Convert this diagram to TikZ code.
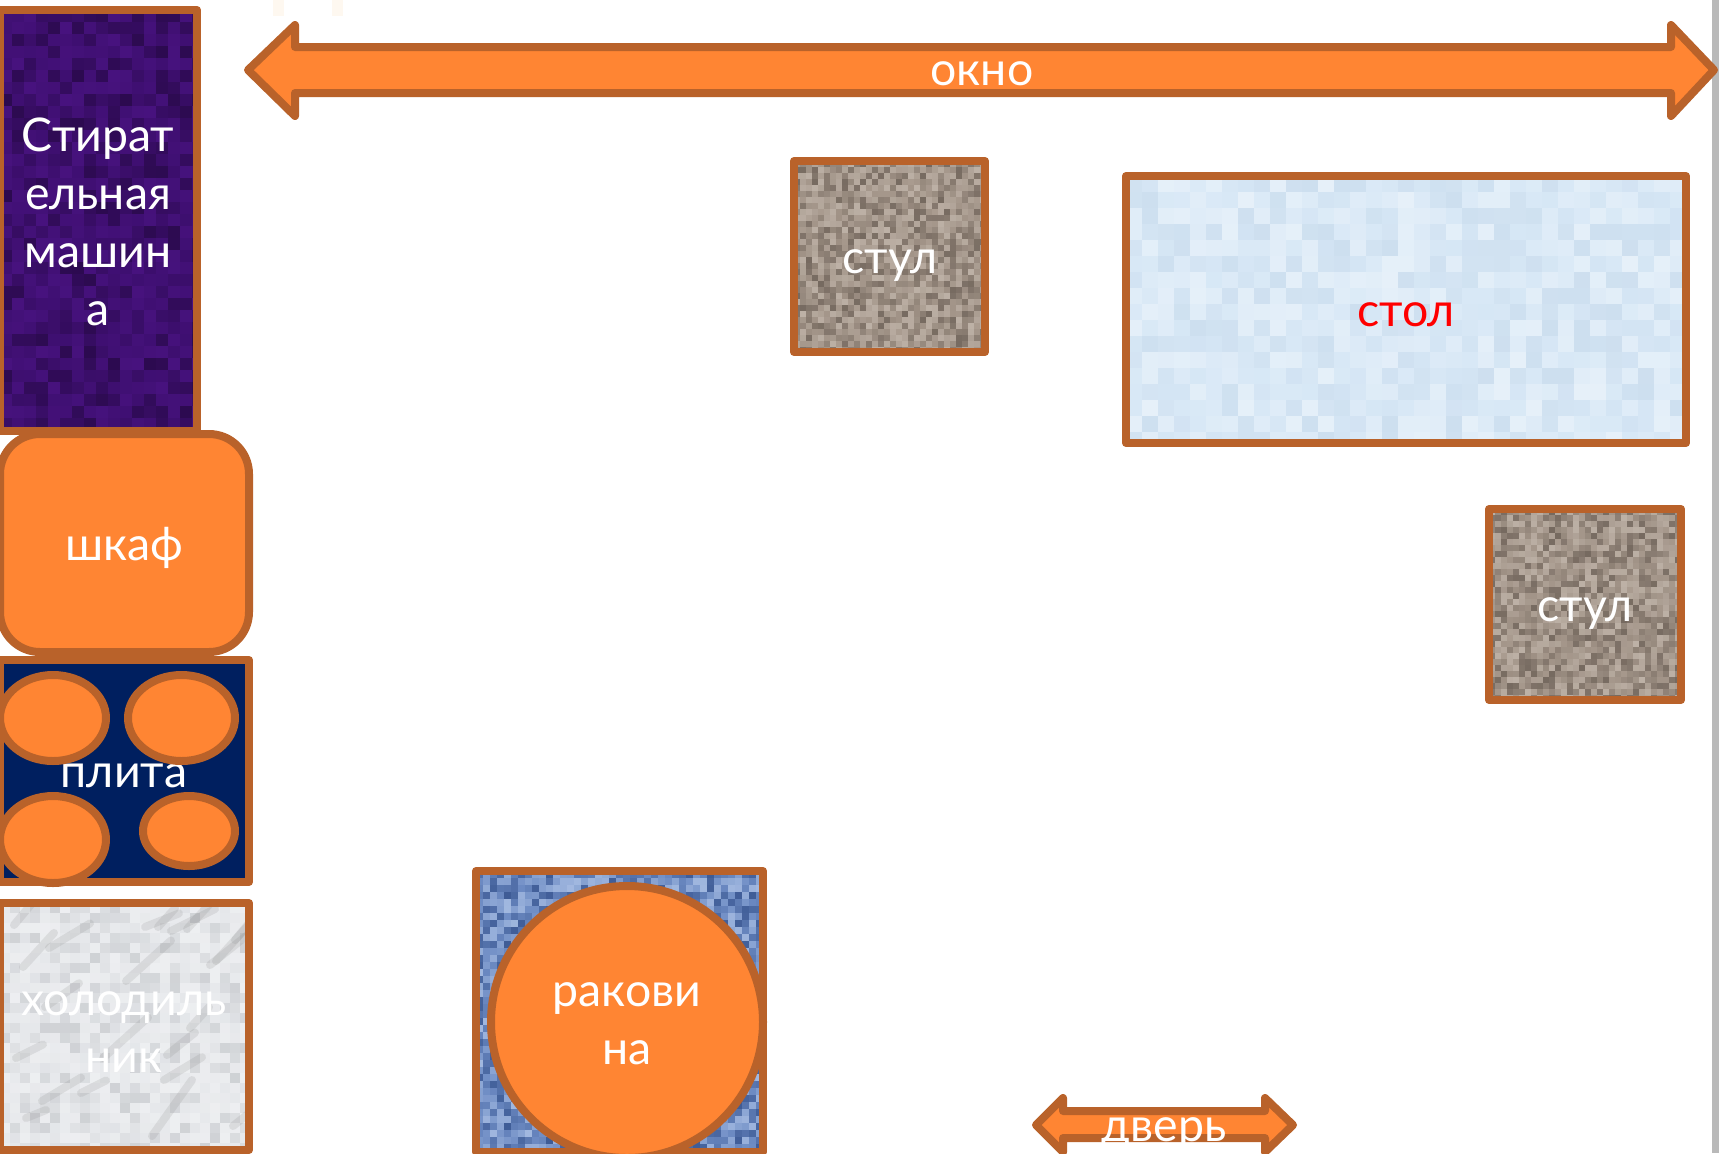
\documentclass[tikz,border=0pt]{standalone}
\usepackage{fontspec}
\setmainfont{Lato}
\definecolor{edgeC}{HTML}{B9622A}
\definecolor{fillC}{HTML}{FF8533}
\definecolor{navyC}{HTML}{001F5F}
\definecolor{bandC}{HTML}{B9B9B9}
\definecolor{creamC}{HTML}{FEF8F0}
\definecolor{purpleC}{HTML}{3F0F72}
\definecolor{purpleL}{HTML}{5A1A9A}
\definecolor{marbleC}{HTML}{E6E8EB}
\definecolor{marbleD}{HTML}{9A9DA2}
\definecolor{sinkC}{HTML}{6E8CC4}
\definecolor{sinkL}{HTML}{C4D6F2}
\definecolor{sinkD}{HTML}{1F3C78}
\definecolor{stoolC}{HTML}{A29488}
\definecolor{stoolL}{HTML}{D8CEC4}
\definecolor{stoolD}{HTML}{4A4038}
\definecolor{tableC}{HTML}{D8E8F6}
\definecolor{tableD}{HTML}{B8CEE2}
\tikzset{
  x=0.5pt,y=-0.5pt,
  outline/.style={draw=edgeC,line width=4pt,line join=round},
  solidshape/.style={outline,fill=fillC},
  label/.style={text=white,font=\fontsize{23.2}{28.9}\selectfont,align=center,inner sep=0pt},
}
% \mottle{x0}{y0}{x1}{y1}{cell}{base}{light}{dark}{amount}
\newcommand{\mottle}[9]{%
  \fill[#6] (#1,#2) rectangle (#3,#4);
  \begin{scope}
  \clip (#1,#2) rectangle (#3,#4);
  \pgfmathtruncatemacro{\xa}{#1}\pgfmathtruncatemacro{\xb}{#1+#5}\pgfmathtruncatemacro{\xe}{#3}
  \pgfmathtruncatemacro{\ya}{#2}\pgfmathtruncatemacro{\yb}{#2+#5}\pgfmathtruncatemacro{\ye}{#4}
  \foreach \px in {\xa,\xb,...,\xe}{
    \foreach \py in {\ya,\yb,...,\ye}{
      \pgfmathtruncatemacro{\rr}{random(0,2*#9)-#9}
      \ifnum\rr>0 \fill[#7!\rr!#6] (\px,\py) rectangle ++(#5+1,#5+1);
      \else \pgfmathtruncatemacro{\rs}{-\rr}\fill[#8!\rs!#6] (\px,\py) rectangle ++(#5+1,#5+1);\fi
    }
  }
  \end{scope}
}
\begin{document}
\begin{tikzpicture}
\useasboundingbox (0,0) rectangle (1719,1153);
\clip (0,0) rectangle (1719,1153);
\pgfmathsetseed{4217}
\fill[white] (0,0) rectangle (1719,1153);
\fill[bandC] (1712,0) rectangle (1719,1153);
\fill[creamC] (273,0) rectangle (284,16);
\fill[creamC] (332,0) rectangle (343,16);

% washing machine
\mottle{0}{10}{197}{431}{12}{purpleC}{purpleL}{black}{30}
\draw[outline] (0,10) rectangle (197,431);
\node[label] (washer) at (98,222) {Стират\\ельная\\машин\\а};

% cupboard
\draw[solidshape,rounded corners=20pt] (0,434) rectangle (249,652);
\node[label] (cupboard) at (124,548) {шкаф};

% stove
\draw[outline,fill=navyC] (0,660) rectangle (249,882);
\node[label] (stove) at (124,776) {плита};
\draw[solidshape] (53,718) ellipse [x radius=53,y radius=43];
\draw[solidshape] (181.5,718) ellipse [x radius=53.5,y radius=43];
\draw[solidshape] (53,839.5) ellipse [x radius=53,y radius=43.5];
\draw[solidshape] (189,831) ellipse [x radius=46,y radius=35];

% fridge
\mottle{0}{903}{249}{1150}{10}{marbleC}{white}{marbleD}{30}
\begin{scope}
\clip (0,903) rectangle (249,1150);
\foreach \i in {1,...,22}{
  \pgfmathsetmacro{\sx}{random(0,240)}
  \pgfmathsetmacro{\sy}{random(905,1145)}
  \pgfmathsetmacro{\sl}{random(15,45)}
  \pgfmathsetmacro{\sk}{random(4,14)/10}
  \draw[gray,opacity=0.16,line width=4pt,line cap=round] (\sx,\sy) -- ++(\sl,-\sk*\sl);
}
\end{scope}
\draw[outline] (0,903) rectangle (249,1150);
\node[label] (fridge) at (124,1032) {холодиль\\ник};

% sink
\mottle{476}{871}{763}{1152}{7}{sinkC}{sinkL}{sinkD}{60}
\draw[outline] (476,871) rectangle (763,1152);
\draw[solidshape] (627,1022) circle [radius=136];
\node[label] (sink) at (627,1024) {ракови\\на};

% window arrow
\draw[solidshape] (248,70) -- (295,25) -- (295,47) -- (1671,47) -- (1671,25) -- (1714,70)
  -- (1671,116) -- (1671,93) -- (295,93) -- (295,116) -- cycle;
\node[label] (window) at (982,74) {окно};

% chairs
\mottle{794}{161}{985}{352}{6}{stoolC}{stoolL}{stoolD}{50}
\draw[outline] (794,161) rectangle (985,352);
\node[label] (chairA) at (890,266) {стул};
\mottle{1489}{509}{1681}{700}{6}{stoolC}{stoolL}{stoolD}{50}
\draw[outline] (1489,509) rectangle (1681,700);
\node[label] (chairB) at (1585,614) {стул};

% table
\mottle{1126}{176}{1686}{443}{16}{tableC}{white}{tableD}{35}
\draw[outline] (1126,176) rectangle (1686,443);
\node[label,text=red] (tablen) at (1406,315) {стол};

% door arrow
\draw[solidshape] (1036,1125) -- (1063,1098) -- (1063,1111) -- (1265,1111) -- (1265,1098) -- (1293,1125)
  -- (1265,1152) -- (1265,1138) -- (1063,1138) -- (1063,1152) -- cycle;
\begin{scope}
\clip (1000,1090) rectangle (1320,1144);
\node[label] (door) at (1164,1134) {дверь};
\end{scope}
\end{tikzpicture}
\end{document}
